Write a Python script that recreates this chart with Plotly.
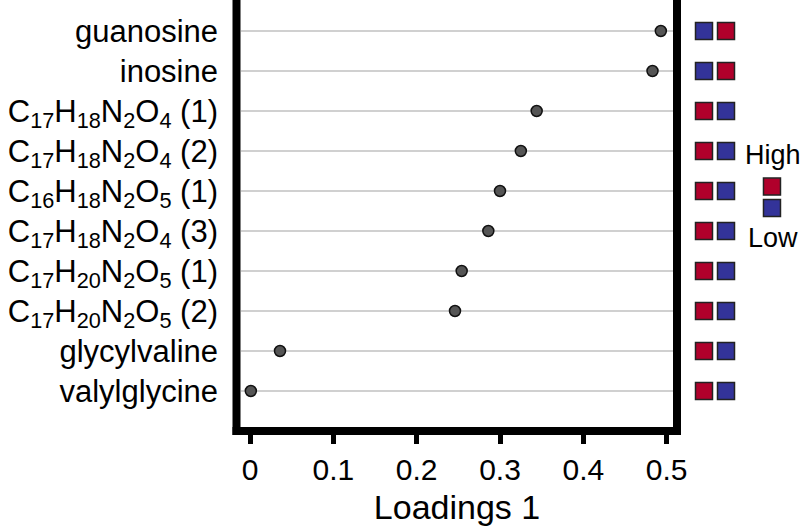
import plotly.graph_objects as go

# ---- data (top to bottom as shown) ----
labels = [
    "guanosine",
    "inosine",
    "C<sub>17</sub>H<sub>18</sub>N<sub>2</sub>O<sub>4</sub> (1)",
    "C<sub>17</sub>H<sub>18</sub>N<sub>2</sub>O<sub>4</sub> (2)",
    "C<sub>16</sub>H<sub>18</sub>N<sub>2</sub>O<sub>5</sub> (1)",
    "C<sub>17</sub>H<sub>18</sub>N<sub>2</sub>O<sub>4</sub> (3)",
    "C<sub>17</sub>H<sub>20</sub>N<sub>2</sub>O<sub>5</sub> (1)",
    "C<sub>17</sub>H<sub>20</sub>N<sub>2</sub>O<sub>5</sub> (2)",
    "glycylvaline",
    "valylglycine",
]
loadings = [0.493, 0.483, 0.344, 0.325, 0.300, 0.286, 0.254, 0.246, 0.036, 0.001]
# level in group 1 / group 2 for each metabolite
group1 = ["Low", "Low", "High", "High", "High", "High", "High", "High", "High", "High"]
group2 = ["High", "High", "Low", "Low", "Low", "Low", "Low", "Low", "Low", "Low"]
x_ticks = [0, 0.1, 0.2, 0.3, 0.4, 0.5]
x_tick_text = ["0", "0.1", "0.2", "0.3", "0.4", "0.5"]

RED = "#B0002B"
BLUE = "#333399"
color_of = {"High": RED, "Low": BLUE}

n = len(labels)
ypos = [n - 1 - i for i in range(n)]  # top row highest

FONT = "Liberation Sans, Arial, sans-serif"

fig = go.Figure()

# dot plot
fig.add_trace(go.Scatter(
    x=loadings, y=ypos, mode="markers",
    marker=dict(size=11, color="#555555", line=dict(color="#111111", width=1.5)),
    xaxis="x", yaxis="y", showlegend=False, hoverinfo="skip",
))

# heat squares
sq_x, sq_y, sq_c = [], [], []
for i in range(n):
    for col, grp in enumerate((group1, group2)):
        sq_x.append(col)
        sq_y.append(ypos[i])
        sq_c.append(color_of[grp[i]])
fig.add_trace(go.Scatter(
    x=sq_x, y=sq_y, mode="markers",
    marker=dict(symbol="square", size=17, color=sq_c, line=dict(color="#222222", width=1.5)),
    xaxis="x2", yaxis="y2", showlegend=False, hoverinfo="skip",
))

# colour key
key_levels = ["High", "Low"]
key_y = [5.11, 4.575]
fig.add_trace(go.Scatter(
    x=[3.09, 3.09], y=key_y, mode="markers",
    marker=dict(symbol="square", size=17, color=[color_of[k] for k in key_levels],
                line=dict(color="#222222", width=1.5)),
    xaxis="x2", yaxis="y2", showlegend=False, hoverinfo="skip",
))
fig.add_annotation(x=3.15, y=5.9, xref="x2", yref="y2", text="High", showarrow=False,
                   font=dict(size=27, color="black", family=FONT))
fig.add_annotation(x=3.15, y=3.83, xref="x2", yref="y2", text="Low", showarrow=False,
                   font=dict(size=27, color="black", family=FONT))

W, H = 807, 529
ml, mb = 241, 102
pw, ph = W - ml, H - mb
split = (673 - ml) / pw

yr = [-0.9, 9.775]

fig.update_layout(
    width=W, height=H,
    margin=dict(l=ml, r=0, t=0, b=mb, autoexpand=False),
    paper_bgcolor="white", plot_bgcolor="white",
    font=dict(family=FONT, color="black"),
    xaxis=dict(
        domain=[0, split], range=[-0.0108, 0.5076],
        tickvals=x_ticks, ticktext=x_tick_text,
        ticks="outside", ticklen=16, tickwidth=4.5, tickcolor="black",
        tickfont=dict(size=30, color="black", family=FONT),
        showgrid=False, zeroline=False, showline=False,
        title=dict(text="Loadings 1", font=dict(size=34, color="black", family=FONT), standoff=10),
        anchor="y", automargin=False,
    ),
    yaxis=dict(
        domain=[0, 1], range=yr,
        tickvals=ypos, ticktext=labels,
        ticks="", ticklabelstandoff=22,
        tickfont=dict(size=31, color="black", family=FONT),
        showgrid=True, gridcolor="#d0d0d0", gridwidth=1.5,
        zeroline=False, showline=False, anchor="x", automargin=False,
    ),
    xaxis2=dict(domain=[split, 1], range=[-1.409, 4.682], visible=False, anchor="y2"),
    yaxis2=dict(domain=[0, 1], range=yr, visible=False, anchor="x2"),
)

# thick frame (top runs beyond the visible area)
def px_x(p):
    return (p - ml) / pw
def px_y(p):
    return (H - mb - p) / ph

frame = dict(color="black", width=8)
fig.add_shape(type="line", xref="paper", yref="paper",
              x0=px_x(236.5), x1=px_x(236.5), y0=px_y(-5), y1=px_y(435), line=frame)
fig.add_shape(type="line", xref="paper", yref="paper",
              x0=px_x(677), x1=px_x(677), y0=px_y(-5), y1=px_y(435), line=frame)
fig.add_shape(type="line", xref="paper", yref="paper",
              x0=px_x(232.5), x1=px_x(681), y0=px_y(431), y1=px_y(431), line=frame)

fig.write_html(
    "out.html",
    config={"displayModeBar": False},
    post_script="document.body.style.margin='0';document.body.style.overflow='hidden';",
)
